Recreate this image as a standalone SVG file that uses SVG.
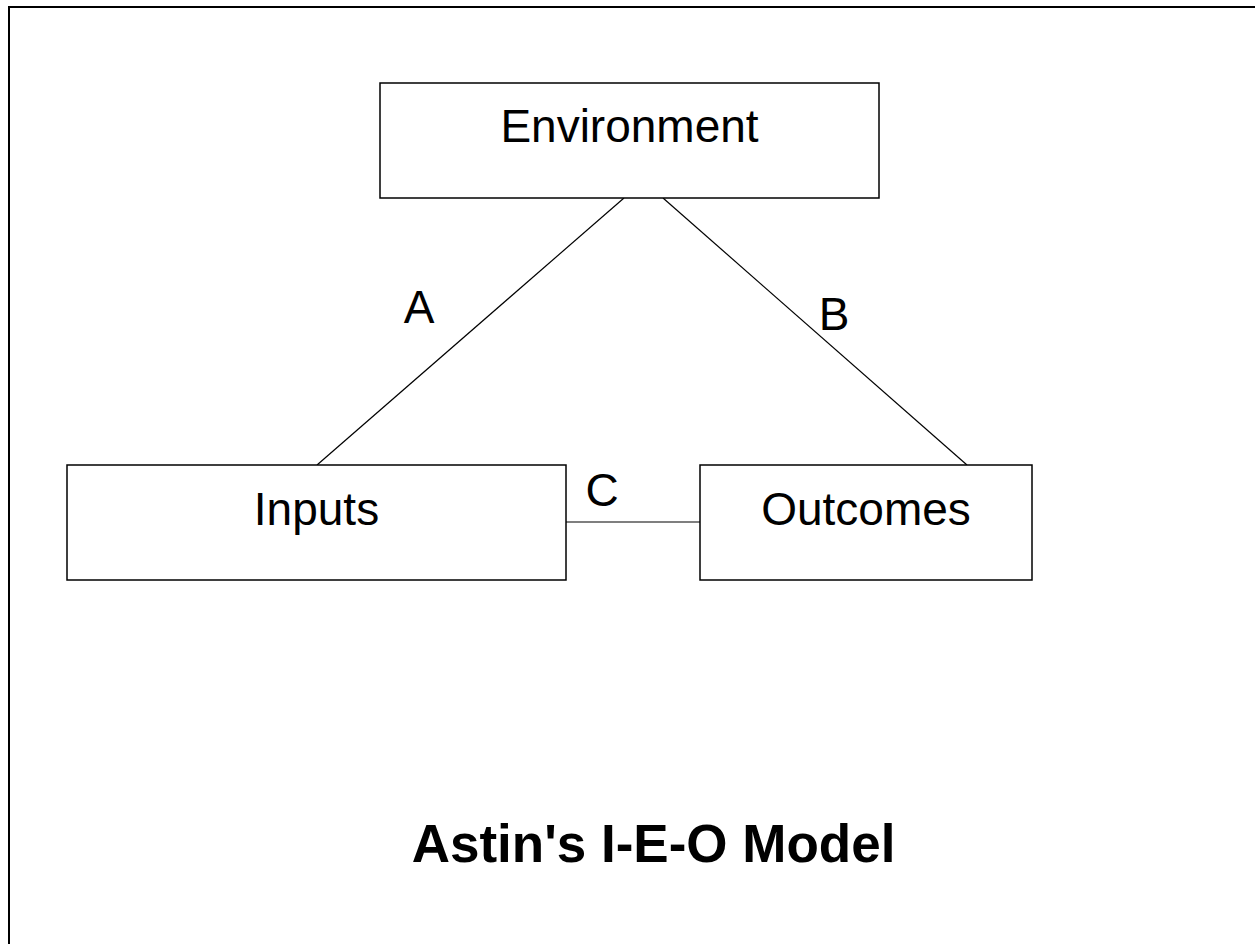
<svg xmlns="http://www.w3.org/2000/svg" width="1255" height="944" viewBox="0 0 1255 944">
<style>
.box{fill:#fff;stroke:#000;stroke-width:1.5}
.lbl{font-family:"Liberation Sans",Arial,sans-serif;font-size:46px;fill:#000}
.conn line{stroke:#000;stroke-width:1.2}
.title{font-family:"Liberation Sans",Arial,sans-serif;font-size:53px;font-weight:bold;fill:#000}
</style>
<rect width="1255" height="944" fill="#fff"/>
<path d="M9,944 V7 H1255" fill="none" stroke="#000" stroke-width="2"/>
<g id="connectors" class="conn">
<line x1="624" y1="198" x2="317" y2="465"/>
<line x1="663" y1="198" x2="967" y2="465"/>
<line x1="566" y1="522" x2="700" y2="522"/>
<text class="lbl" x="419" y="323" text-anchor="middle">A</text>
<text class="lbl" x="834" y="330" text-anchor="middle">B</text>
<text class="lbl" x="602" y="506" text-anchor="middle">C</text>
</g>
<g id="environment">
<rect class="box" x="380" y="83" width="499" height="115"/>
<text class="lbl" x="629.5" y="142" text-anchor="middle">Environment</text>
</g>
<g id="inputs">
<rect class="box" x="67" y="465" width="499" height="115"/>
<text class="lbl" x="316.5" y="525" text-anchor="middle">Inputs</text>
</g>
<g id="outcomes">
<rect class="box" x="700" y="465" width="332" height="115"/>
<text class="lbl" x="866" y="525" text-anchor="middle">Outcomes</text>
</g>
<text class="title" x="653.5" y="862" text-anchor="middle">Astin's I-E-O Model</text>
</svg>
